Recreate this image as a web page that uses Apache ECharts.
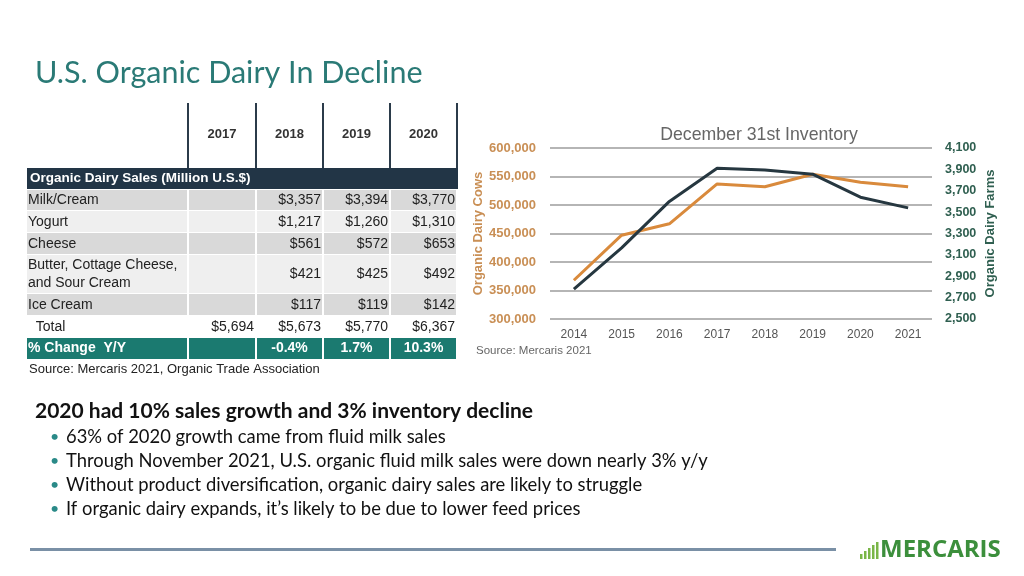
<!DOCTYPE html>
<html><head><meta charset="utf-8">
<script src="https://cdn.jsdelivr.net/npm/echarts@6/dist/echarts.min.js"></script>
<style>html,body{margin:0;padding:0;background:#fff}#c{width:1024px;height:576px}</style>
</head><body><div id="c"></div>
<script>
// ---- Data ----
const years = ['2014','2015','2016','2017','2018','2019','2020','2021'];
const dairyCows = [368000, 447000, 467000, 537000, 532000, 554000, 540000, 532000];
const dairyFarms = [2780, 3165, 3600, 3910, 3895, 3855, 3640, 3540];

const tableYears = ['2017','2018','2019','2020'];
const rowLabels = ['Milk/Cream','Yogurt','Cheese','Butter, Cottage Cheese,\nand Sour Cream','Ice Cream','  Total'];
const milkCream = ['', '$3,357', '$3,394', '$3,770'];
const yogurt = ['', '$1,217', '$1,260', '$1,310'];
const cheese = ['', '$561', '$572', '$653'];
const butter = ['', '$421', '$425', '$492'];
const iceCream = ['', '$117', '$119', '$142'];
const totals = ['$5,694', '$5,673', '$5,770', '$6,367'];
const pctChange = ['', '-0.4%', '1.7%', '10.3%'];
const tableHeader = 'Organic Dairy Sales (Million U.S.$)';
const pctLabel = '% Change  Y/Y';
const tableSource = 'Source: Mercaris 2021, Organic Trade Association';

const slideTitle = 'U.S. Organic Dairy In Decline';
const headline = '2020 had 10% sales growth and 3% inventory decline';
const bullets = [
  '63% of 2020 growth came from fluid milk sales',
  'Through November 2021, U.S. organic fluid milk sales were down nearly 3% y/y',
  'Without product diversification, organic dairy sales are likely to struggle',
  'If organic dairy expands, it\u2019s likely to be due to lower feed prices'
];

// ---- Table built from arrays ----
const g = [];
const colX = [27, 189, 257, 324, 391, 458]; // column boundaries
const tf = 'Liberation Sans, Arial, sans-serif';
for (let i = 1; i < colX.length; i++) {
  g.push({type:'rect', shape:{x:colX[i]-2, y:103, width:2, height:65}, style:{fill:'#2b3b4a'}});
}
tableYears.forEach((y, i) => {
  g.push({type:'text', x:(colX[i+1]+colX[i+2])/2 - 1, y:134, style:{text:y, font:'bold 13px '+tf, fill:'#333', align:'center', verticalAlign:'middle'}});
});
g.push({type:'rect', shape:{x:27, y:168, width:431, height:21}, style:{fill:'#223546'}});
g.push({type:'text', x:30, y:178.5, style:{text:tableHeader, font:'bold 13.5px '+tf, fill:'#fff', verticalAlign:'middle'}});
const rows = [milkCream, yogurt, cheese, butter, iceCream, totals];
const rowH = [21, 22, 22, 39, 22, 22];
const rowFill = ['#d9d9d9', '#efefef', '#d9d9d9', '#efefef', '#d9d9d9', '#ffffff'];
let ry = 190;
rows.forEach((vals, r) => {
  const h = rowH[r];
  for (let c = 0; c < 5; c++) {
    g.push({type:'rect', shape:{x:colX[c], y:ry, width:colX[c+1]-colX[c]-2, height:h-1}, style:{fill:rowFill[r]}});
  }
  g.push({type:'text', x:28, y:ry + h/2, style:{text:rowLabels[r], font:'14px '+tf, fill:'#222', verticalAlign:'middle', lineHeight:18}});
  vals.forEach((v, i) => {
    g.push({type:'text', x:colX[i+2]-3, y:ry + h/2, style:{text:v, font:'14px '+tf, fill:'#222', align:'right', verticalAlign:'middle'}});
  });
  ry += h;
});
for (let c = 0; c < 5; c++) {
  g.push({type:'rect', shape:{x:colX[c], y:ry, width:colX[c+1]-colX[c]-2, height:21}, style:{fill:'#1b7a70'}});
}
g.push({type:'text', x:28, y:ry+10.5, style:{text:pctLabel, font:'bold 14px '+tf, fill:'#fff', verticalAlign:'middle'}});
pctChange.forEach((v, i) => {
  g.push({type:'text', x:(colX[i+1]+colX[i+2])/2 - 1, y:ry+10.5, style:{text:v, font:'bold 14px '+tf, fill:'#fff', align:'center', verticalAlign:'middle'}});
});
g.push({type:'text', x:29, y:369, style:{text:tableSource, font:'13px '+tf, fill:'#222', verticalAlign:'middle'}});

// ---- Slide texts ----
const sf = 'Lato, "Open Sans", sans-serif';
g.push({type:'text', x:35, y:73, style:{text:slideTitle, font:'30.5px '+sf, fill:'#2a7a76', verticalAlign:'middle'}});
g.push({type:'text', x:35, y:411, style:{text:headline, font:'bold 21px '+sf, fill:'#111', verticalAlign:'middle'}});
bullets.forEach((b, i) => {
  g.push({type:'text', x:50, y:437 + i*24, style:{text:'\u2022', font:'16px '+sf, fill:'#2a8a88', verticalAlign:'middle'}});
  g.push({type:'text', x:66, y:437 + i*24, style:{text:b, font:'18.4px '+sf, fill:'#111', verticalAlign:'middle'}});
});
// bottom rule and logo
g.push({type:'rect', shape:{x:30, y:548, width:806, height:3}, style:{fill:'#7a90a6'}});
const barH = [5, 8, 11, 14, 17];
barH.forEach((h, i) => {
  g.push({type:'rect', shape:{x:860 + i*4, y:559 - h, width:2.5, height:h}, style:{fill:'#7ab648'}});
});
g.push({type:'text', x:880, y:550, style:{text:'MERCARIS', font:'bold 24px "Open Sans", sans-serif', fill:'#3c8f3c', verticalAlign:'middle'}});
// chart title & source
g.push({type:'text', x:759, y:135, style:{text:'December 31st Inventory', font:'17.7px '+tf, fill:'#666', align:'center', verticalAlign:'middle'}});
g.push({type:'text', x:476, y:351, style:{text:'Source: Mercaris 2021', font:'11.5px '+tf, fill:'#666', verticalAlign:'middle'}});

const chart = echarts.init(document.getElementById('c'));
chart.setOption({
  animation: false,
  graphic: g,
  grid: {left: 550, right: 92, top: 148, bottom: 257},
  xAxis: {
    type: 'category', data: years, boundaryGap: true,
    axisLine: {show: false}, axisTick: {show: false},
    axisLabel: {color: '#555', fontSize: 12, fontFamily: tf, margin: 10}
  },
  yAxis: [
    {
      type: 'value', min: 300000, max: 600000, interval: 50000, position: 'left',
      name: 'Organic Dairy Cows', nameLocation: 'middle', nameGap: 64, nameRotate: 90,
      nameTextStyle: {color: '#c98f55', fontWeight: 'bold', fontSize: 13, fontFamily: tf},
      axisLabel: {color: '#c98f55', fontWeight: 'bold', fontSize: 13, fontFamily: tf, margin: 14,
        formatter: v => v.toLocaleString('en-US')},
      axisLine: {show: false}, axisTick: {show: false},
      splitLine: {lineStyle: {color: '#b5b5b5', width: 2}}
    },
    {
      type: 'value', min: 2500, max: 4100, interval: 200, position: 'right',
      name: 'Organic Dairy Farms', nameLocation: 'middle', nameGap: 52, nameRotate: 90,
      nameTextStyle: {color: '#2f5f50', fontWeight: 'bold', fontSize: 13, fontFamily: tf},
      axisLabel: {color: '#2f5f50', fontWeight: 'bold', fontSize: 12.5, fontFamily: tf, margin: 13,
        formatter: v => v.toLocaleString('en-US')},
      axisLine: {show: false}, axisTick: {show: false},
      splitLine: {show: false}
    }
  ],
  series: [
    {type: 'line', name: 'Cows', yAxisIndex: 0, data: dairyCows, symbol: 'none',
     lineStyle: {color: '#d98a3c', width: 3}},
    {type: 'line', name: 'Farms', yAxisIndex: 1, data: dairyFarms, symbol: 'none',
     lineStyle: {color: '#263740', width: 3}}
  ]
});
</script></body></html>
